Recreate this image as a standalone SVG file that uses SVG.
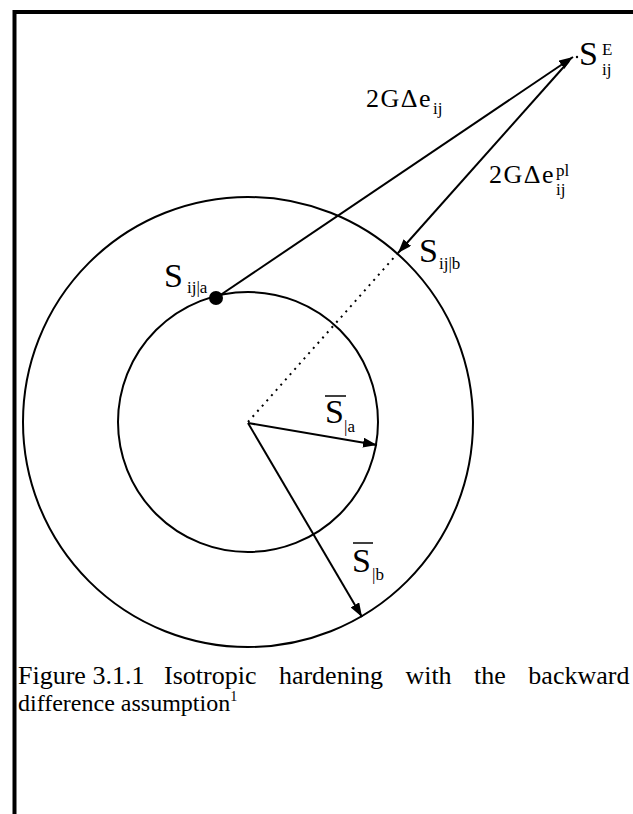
<svg xmlns="http://www.w3.org/2000/svg" width="633" height="814" viewBox="0 0 633 814">
<style>
.ln{stroke:#000;stroke-width:2;fill:none}
.t{font-family:"Liberation Serif","Times New Roman",serif;fill:#000}
.big{font-size:34px}
.sub{font-size:17px}
.lab{font-size:26px;letter-spacing:1.5px}
.cap{font-size:24px}
</style>
<defs>
<marker id="ah" markerUnits="userSpaceOnUse" markerWidth="14" markerHeight="10" refX="14" refY="5" orient="auto">
<path d="M0,0 L14,5 L0,10 z" fill="#000"/>
</marker>
</defs>
<rect width="633" height="814" fill="#fff"/>
<g id="frame">
<path d="M14.5,814 V12 H633" stroke="#000" stroke-width="4" fill="none"/>
</g>
<g id="outer-circle"><circle cx="248" cy="422" r="225" class="ln"/></g>
<g id="inner-circle"><circle cx="248" cy="422" r="130" class="ln"/></g>
<g id="connectors">
<line x1="216" y1="298" x2="573" y2="57" class="ln" marker-end="url(#ah)"/>
<line x1="569" y1="61" x2="398" y2="253" class="ln" marker-end="url(#ah)"/>
<line x1="248" y1="422" x2="398" y2="253" stroke="#000" stroke-width="2" stroke-dasharray="2 5"/>
<line x1="248" y1="423" x2="377" y2="445" class="ln" marker-end="url(#ah)"/>
<line x1="248" y1="423" x2="362" y2="617" class="ln" marker-end="url(#ah)"/>
</g>
<g id="point-a">
<circle cx="216" cy="298" r="7" fill="#000"/>
<text class="t big" x="164" y="287">S</text>
<text class="t sub" x="187" y="293">ij|a</text>
</g>
<g id="point-E">
<circle cx="577" cy="57" r="1.2" fill="#000"/>
<text class="t big" x="579" y="65">S</text>
<text class="t sub" x="602" y="55">E</text>
<text class="t sub" x="602" y="75">ij</text>
</g>
<g id="point-b">
<text class="t big" x="419" y="262">S</text>
<text class="t sub" x="439" y="269">ij|b</text>
</g>
<g id="label-de">
<text class="t lab" x="366" y="107">2GΔe</text>
<text class="t sub" x="433" y="114">ij</text>
</g>
<g id="label-depl">
<text class="t lab" x="489" y="183">2GΔe</text>
<text class="t sub" x="556" y="176">pl</text>
<text class="t sub" x="556" y="195">ij</text>
</g>
<g id="label-Sa">
<line x1="325" y1="396" x2="346" y2="396" stroke="#000" stroke-width="1.5"/>
<text class="t big" x="325" y="423">S</text>
<text class="t sub" x="344" y="432">|a</text>
</g>
<g id="label-Sb">
<line x1="353" y1="543" x2="373" y2="543" stroke="#000" stroke-width="1.5"/>
<text class="t big" x="352" y="572">S</text>
<text class="t sub" x="372" y="580">|b</text>
</g>
<g id="caption">
<text class="t" x="18" y="684"><tspan font-size="26">Figure 3.1.1</tspan><tspan x="164" font-size="26" word-spacing="16">Isotropic hardening with the backward</tspan></text>
<text class="t cap" x="18" y="711">difference assumption<tspan font-size="14" dy="-10">1</tspan></text>
</g>
</svg>
